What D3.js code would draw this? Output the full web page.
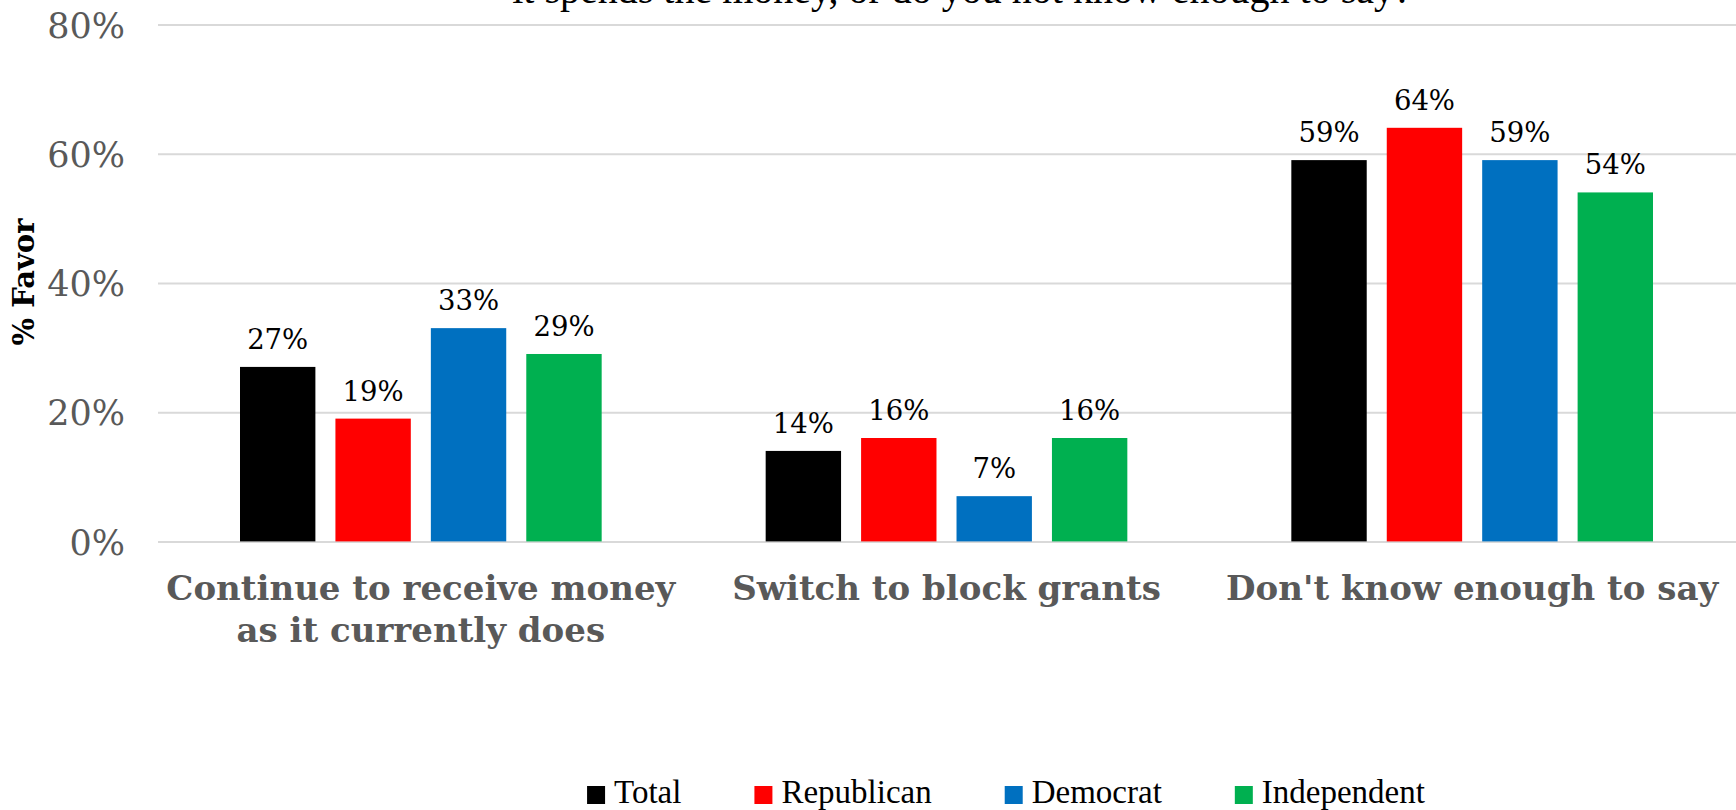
<!DOCTYPE html>
<html>
<head>
<meta charset="utf-8">
<script src="https://cdn.jsdelivr.net/npm/d3@7/dist/d3.min.js"></script>
<style>
html,body{margin:0;padding:0;background:#fff;}
svg{display:block;}
</style>
</head>
<body>
<svg id="chart" width="1736" height="810"></svg>
<script>
// ---- data ----
const titleText = "it spends the money, or do you not know enough to say?";
const categories = ["Continue to receive money as it currently does", "Switch to block grants", "Don't know enough to say"];
const categoryLines = [["Continue to receive money", "as it currently does"], ["Switch to block grants"], ["Don't know enough to say"]];
const seriesNames = ["Total", "Republican", "Democrat", "Independent"];
const totalValues = [27, 14, 59];
const republicanValues = [19, 16, 64];
const democratValues = [33, 7, 59];
const independentValues = [29, 16, 54];
const seriesColors = ["#000000", "#FF0000", "#0070C0", "#00B050"];
const yTicks = [0, 20, 40, 60, 80];
const yTitle = "% Favor";

const seriesValues = [totalValues, republicanValues, democratValues, independentValues];

// ---- layout ----
const W = 1736, H = 810;
const plotLeft = 158, plotRight = 1735, plotTop = 24.4, plotBottom = 541.4;

const svg = d3.select("#chart");

const x0 = d3.scaleBand().domain(categories).range([plotLeft, plotRight]).paddingInner(0).paddingOuter(0);
const groupPad = 82;
const x1 = d3.scaleBand().domain(seriesNames)
  .range([groupPad, x0.bandwidth() - groupPad]).paddingInner(0.21).paddingOuter(0);
const y = d3.scaleLinear().domain([0, 80]).range([plotBottom, plotTop]);

// gridlines + tick labels
const yAxis = d3.axisLeft(y).tickValues(yTicks).tickFormat(d => d + "%")
  .tickSizeInner(-(W - plotLeft)).tickSizeOuter(0).tickPadding(33);
const gy = svg.append("g").attr("transform", `translate(${plotLeft},0)`).call(yAxis);
gy.select(".domain").remove();
gy.selectAll(".tick line").attr("stroke", "#d9d9d9").attr("stroke-width", 2);
gy.selectAll(".tick text").attr("fill", "#595959")
  .style("font-family", "'DejaVu Serif', serif").style("font-size", "35px")
  .attr("dy", "0.36em");

// title (last line, partially cut)
svg.append("text").attr("x", 962).attr("y", 3)
  .attr("text-anchor", "middle")
  .style("font-family", "'Liberation Serif', 'Times New Roman', serif")
  .style("font-size", "40px").attr("fill", "#000")
  .text(titleText);

// bars
const groups = svg.append("g").selectAll("g").data(categories).join("g")
  .attr("transform", d => `translate(${x0(d)},0)`);

groups.each(function(cat, ci) {
  const g = d3.select(this);
  const rows = seriesNames.map((s, si) => ({s, v: seriesValues[si][ci], c: seriesColors[si]}));
  g.selectAll("rect").data(rows).join("rect")
    .attr("x", d => x1(d.s)).attr("width", x1.bandwidth())
    .attr("y", d => y(d.v)).attr("height", d => y(0) - y(d.v))
    .attr("fill", d => d.c);
  g.selectAll("text.lbl").data(rows).join("text").attr("class", "lbl")
    .attr("x", d => x1(d.s) + x1.bandwidth() / 2)
    .attr("y", d => y(d.v) - 18)
    .attr("text-anchor", "middle")
    .style("font-family", "'DejaVu Serif', serif").style("font-size", "27.5px")
    .attr("fill", "#000")
    .text(d => d.v + "%");
});

// category labels
const catG = svg.append("g");
categories.forEach((c, ci) => {
  const t = catG.append("text")
    .attr("x", x0(c) + x0.bandwidth() / 2).attr("y", 600)
    .attr("text-anchor", "middle")
    .style("font-family", "'DejaVu Serif', serif").style("font-weight", "bold")
    .style("font-size", "34px").attr("fill", "#595959");
  categoryLines[ci].forEach((ln, li) => {
    t.append("tspan").attr("x", x0(c) + x0.bandwidth() / 2)
      .attr("dy", li === 0 ? 0 : 42).text(ln);
  });
});

// y title
svg.append("text")
  .attr("transform", "translate(34,282) rotate(-90)")
  .attr("text-anchor", "middle")
  .style("font-family", "'DejaVu Serif', serif").style("font-weight", "bold")
  .style("font-size", "29px").attr("fill", "#000")
  .text(yTitle);

// legend
const legend = svg.append("g");
const sq = 18, gapSqText = 9, gapItems = 73;
let lx = 0;
seriesNames.forEach((s, i) => {
  const it = legend.append("g");
  it.append("rect").attr("x", 0).attr("y", -sq + 1).attr("width", sq).attr("height", sq).attr("fill", seriesColors[i]);
  const tx = it.append("text").attr("x", sq + gapSqText).attr("y", 0)
    .style("font-family", "'Liberation Serif', 'Times New Roman', serif")
    .style("font-size", "33px").attr("fill", "#000").text(s);
  const w = sq + gapSqText + tx.node().getComputedTextLength();
  it.attr("transform", `translate(${lx},0)`);
  lx += w + gapItems;
});
const legendW = lx - gapItems;
legend.attr("transform", `translate(${1006 - legendW / 2},803)`);
</script>
</body>
</html>
